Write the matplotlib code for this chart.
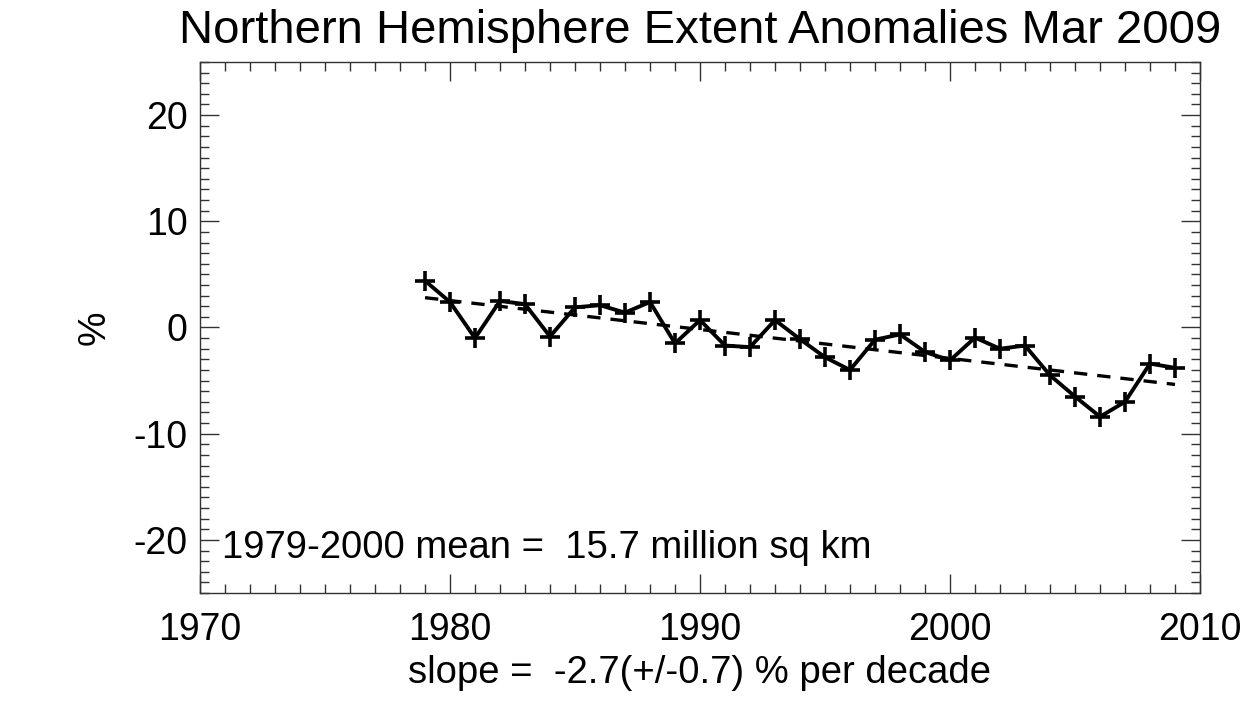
import numpy as np
import matplotlib
matplotlib.use("Agg")
import matplotlib.pyplot as plt
from matplotlib.ticker import MultipleLocator

plt.rcParams['font.family'] = ['Liberation Sans', 'DejaVu Sans']
plt.rcParams['axes.unicode_minus'] = False

years = np.arange(1979, 2010)
anom = [4.4, 2.4, -1.0, 2.5, 2.2, -0.85, 1.9, 2.1, 1.4, 2.4,
        -1.5, 0.7, -1.7, -1.85, 0.7, -1.1, -2.8, -4.0, -1.15, -0.65,
        -2.3, -3.1, -0.95, -2.0, -1.7, -4.5, -6.5, -8.4, -7.0, -3.4,
        -3.8]
title = "Northern Hemisphere Extent Anomalies Mar 2009"
mean_text = "1979-2000 mean =  15.7 million sq km"
slope_text = "slope =  -2.7(+/-0.7) % per decade"

# linear trend
slope, intercept = np.polyfit(years, anom, 1)
trend = slope * years + intercept

fig = plt.figure(figsize=(12.6, 7.2), dpi=100)
ax = fig.add_axes([200/1260, 1 - 593/720, 1000/1260, 531/720])

ax.plot(years, anom, '-', color='k', lw=2.8, marker='+', ms=15, mew=2.6)
ax.plot(years, trend, '--', color='k', lw=2.4, dashes=(4, 3))

ax.set_xlim(1970, 2010)
ax.set_ylim(-25, 25)
ax.xaxis.set_major_locator(MultipleLocator(10))
ax.xaxis.set_minor_locator(MultipleLocator(1))
ax.yaxis.set_major_locator(MultipleLocator(10))
ax.yaxis.set_minor_locator(MultipleLocator(1))
ax.tick_params(which='both', direction='in', top=True, right=True,
               color='#333333', width=1.0, labelsize=27)
ax.tick_params(which='major', length=14)
ax.tick_params(which='minor', length=6.5)
ax.tick_params(axis='x', which='major', pad=14)
ax.tick_params(axis='y', which='major', pad=9)
for s in ax.spines.values():
    s.set_linewidth(1.0)
    s.set_color('#333333')

ax.set_title(title, fontsize=34, pad=14)
ax.set_ylabel("%", fontsize=28, labelpad=15)
ax.set_xlabel(slope_text, fontsize=27.5, labelpad=5)
ax.text(0.022, 0.085, mean_text, transform=ax.transAxes, fontsize=27.5,
        va='center', ha='left')

fig.savefig("out.png", dpi=100)
